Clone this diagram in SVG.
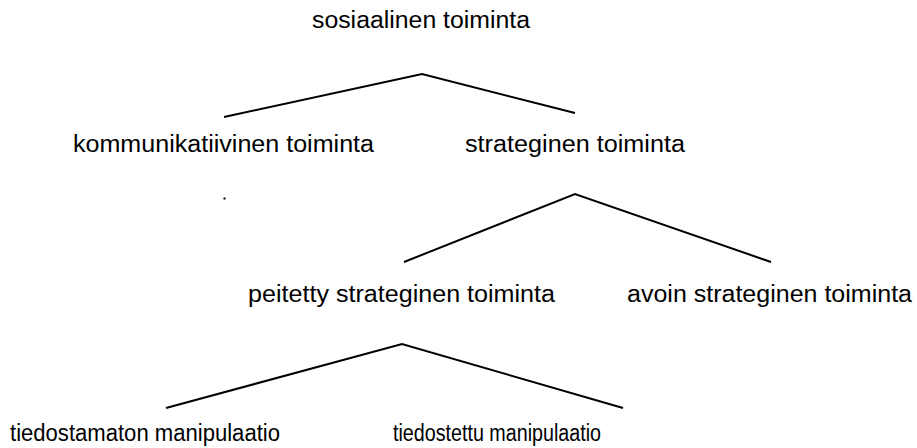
<svg xmlns="http://www.w3.org/2000/svg" width="917" height="448" viewBox="0 0 917 448">
<style>
.t{font-family:"Liberation Sans",Arial,sans-serif;font-size:23px;fill:#000}
.c{fill:none;stroke:#000;stroke-width:2;stroke-linejoin:miter}
</style>
<rect width="917" height="448" fill="#fff"/>
<g id="connectors">
<polyline class="c" points="224,117 422,74 575,113"/>
<polyline class="c" points="404,262 575,194 771,262"/>
<polyline class="c" points="166,408 402,344 623,408"/>
</g>
<g id="n-sosiaalinen"><text class="t" x="312" y="28" textLength="218" lengthAdjust="spacingAndGlyphs">sosiaalinen toiminta</text></g>
<g id="n-kommunikatiivinen"><text class="t" x="73" y="152" textLength="301" lengthAdjust="spacingAndGlyphs">kommunikatiivinen toiminta</text></g>
<g id="n-strateginen"><text class="t" x="465" y="152" textLength="220" lengthAdjust="spacingAndGlyphs">strateginen toiminta</text></g>
<g id="n-peitetty"><text class="t" x="248" y="302" textLength="307" lengthAdjust="spacingAndGlyphs">peitetty strateginen toiminta</text></g>
<g id="n-avoin"><text class="t" x="627" y="302" textLength="285" lengthAdjust="spacingAndGlyphs">avoin strateginen toiminta</text></g>
<g id="n-tiedostamaton"><text class="t" x="10" y="441" textLength="270" lengthAdjust="spacingAndGlyphs">tiedostamaton manipulaatio</text></g>
<g id="n-tiedostettu"><text class="t" x="393" y="441" textLength="208" lengthAdjust="spacingAndGlyphs">tiedostettu manipulaatio</text></g>
<rect x="223.5" y="197.5" width="2" height="2" fill="#000"/>
</svg>
